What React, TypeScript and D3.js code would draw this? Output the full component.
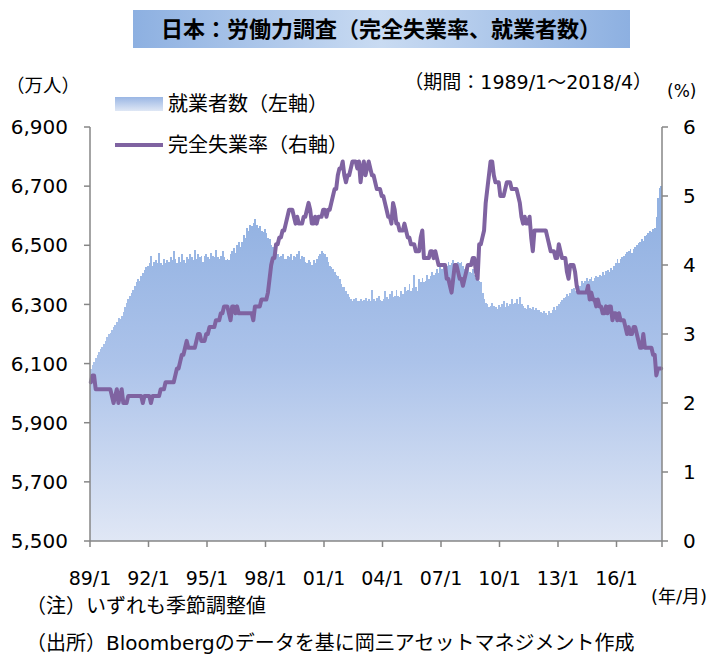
import * as d3 from "d3";

const startYear = 1989;

// 就業者数（万人, 季節調整値）1989/1〜2018/4
const employment = [
  6080, 6095, 6105, 6118, 6130, 6140, 6150, 6155, 6165, 6175, 6190, 6200,
  6205, 6215, 6225, 6230, 6240, 6255, 6250, 6262, 6275, 6290, 6305, 6320,
  6330, 6340, 6350, 6362, 6375, 6385, 6380, 6395, 6405, 6418, 6425, 6430,
  6440, 6465, 6430, 6445, 6450, 6440, 6475, 6440, 6435, 6455, 6440, 6450,
  6445, 6460, 6450, 6480, 6455, 6440, 6460, 6445, 6470, 6450, 6440, 6460,
  6455, 6470, 6460, 6450, 6485, 6455, 6470, 6460, 6465, 6445, 6465, 6470,
  6460, 6455, 6475, 6465, 6460, 6485, 6460, 6455, 6465, 6480, 6460, 6450,
  6455, 6450, 6470, 6480, 6490, 6475, 6500, 6510, 6495, 6510, 6535, 6525,
  6560, 6550, 6570, 6565, 6575, 6590, 6570, 6560, 6565, 6550, 6545, 6555,
  6540, 6525, 6520, 6500, 6495, 6480, 6475, 6470, 6460, 6465, 6470, 6455,
  6455, 6465, 6460, 6470, 6450, 6465, 6460, 6470, 6480, 6455, 6465, 6460,
  6445, 6440, 6450, 6445, 6435, 6450, 6440, 6455, 6465, 6470, 6480, 6475,
  6470, 6460, 6445, 6430, 6425, 6420, 6410, 6400, 6395, 6385, 6370, 6360,
  6360, 6345, 6335, 6325, 6318, 6310, 6318, 6322, 6312, 6310, 6318, 6312,
  6315, 6322, 6310, 6318, 6312, 6350, 6318, 6312, 6322, 6330, 6315, 6310,
  6320, 6345, 6325, 6320, 6335, 6345, 6325, 6330, 6350, 6330, 6325, 6345,
  6335, 6360, 6345, 6350, 6370, 6345, 6355, 6400, 6360, 6345, 6385, 6375,
  6390, 6375, 6380, 6400, 6385, 6395, 6410, 6400, 6405, 6420, 6405, 6425,
  6420, 6425, 6435, 6430, 6445, 6435, 6440, 6450, 6440, 6430, 6445, 6440,
  6445, 6430, 6420, 6415, 6425, 6410, 6405, 6420, 6400, 6390, 6385, 6380,
  6375, 6340, 6320, 6305, 6300, 6290, 6295, 6305, 6295, 6290, 6285, 6298,
  6290, 6300, 6310, 6290, 6305, 6295, 6300, 6318, 6300, 6305, 6320, 6300,
  6325, 6300, 6295, 6288, 6285, 6298, 6288, 6285, 6292, 6280, 6288, 6282,
  6280, 6275, 6270, 6278, 6270, 6265, 6278, 6270, 6282, 6290, 6282, 6295,
  6300, 6308, 6315, 6322, 6325, 6335, 6330, 6340, 6352, 6355, 6345, 6362,
  6365, 6362, 6380, 6372, 6380, 6388, 6378, 6385, 6392, 6380, 6388, 6395,
  6392, 6400, 6395, 6408, 6400, 6412, 6418, 6410, 6422, 6415, 6430, 6440,
  6452, 6440, 6455, 6462, 6465, 6472, 6478, 6482, 6488, 6475, 6488, 6495,
  6500, 6508, 6512, 6522, 6515, 6532, 6535, 6542, 6550, 6545, 6555, 6560,
  6595, 6660, 6695, 6700,
];

// 完全失業率（%, 季節調整値）1989/1〜2018/4
const unemployment = [
  2.3, 2.4, 2.4, 2.2, 2.2, 2.2, 2.2, 2.2, 2.2, 2.2, 2.2, 2.2,
  2.2, 2.1, 2.0, 2.1, 2.2, 2.0, 2.1, 2.2, 2.0, 2.0, 2.0, 2.1,
  2.1, 2.1, 2.1, 2.1, 2.1, 2.1, 2.1, 2.1, 2.0, 2.1, 2.1, 2.1,
  2.1, 2.0, 2.1, 2.1, 2.1, 2.1, 2.1, 2.2, 2.2, 2.2, 2.3, 2.3,
  2.3, 2.3, 2.3, 2.3, 2.4, 2.5, 2.5, 2.6, 2.7, 2.7, 2.8, 2.9,
  2.8, 2.8, 2.8, 2.8, 2.8, 2.9, 3.0, 3.0, 2.9, 2.9, 2.9, 3.0,
  3.0, 3.1, 3.1, 3.1, 3.1, 3.2, 3.2, 3.2, 3.3, 3.3, 3.4, 3.4,
  3.4, 3.3, 3.2, 3.4, 3.4, 3.3, 3.4, 3.3, 3.3, 3.3, 3.3, 3.3,
  3.3, 3.3, 3.3, 3.3, 3.2, 3.4, 3.4, 3.4, 3.4, 3.5, 3.5, 3.5,
  3.5, 3.6, 3.8, 4.0, 4.1, 4.1, 4.3, 4.3, 4.4, 4.4, 4.5, 4.5,
  4.6, 4.7, 4.8, 4.8, 4.8, 4.7, 4.6, 4.7, 4.6, 4.6, 4.6, 4.7,
  4.7, 4.8, 4.9, 4.8, 4.6, 4.6, 4.7, 4.6, 4.7, 4.7, 4.7, 4.8,
  4.8, 4.7, 4.8, 4.8, 4.9, 5.0, 5.1, 5.1, 5.3, 5.4, 5.4, 5.5,
  5.3, 5.2, 5.3, 5.3, 5.4, 5.5, 5.5, 5.5, 5.4, 5.5, 5.2, 5.4,
  5.5, 5.3, 5.4, 5.5, 5.4, 5.3, 5.3, 5.2, 5.1, 5.1, 5.1, 5.0,
  5.0, 4.9, 4.8, 4.7, 4.7, 4.6, 4.9, 4.8, 4.6, 4.6, 4.5, 4.5,
  4.5, 4.6, 4.5, 4.4, 4.4, 4.3, 4.3, 4.3, 4.2, 4.2, 4.2, 4.4,
  4.5, 4.1, 4.1, 4.1, 4.1, 4.2, 4.2, 4.1, 4.2, 4.1, 4.0, 4.0,
  4.0, 4.0, 4.0, 3.8, 3.8, 3.7, 3.6, 3.8, 4.0, 4.0, 3.9, 3.8,
  3.8, 3.7, 3.8, 3.9, 4.0, 4.0, 4.0, 4.1, 4.1, 3.9, 3.8, 4.3,
  4.3, 4.4, 4.5, 4.9, 5.1, 5.3, 5.5, 5.5, 5.3, 5.2, 5.2, 5.2,
  5.0, 5.0, 5.0, 5.1, 5.2, 5.2, 5.2, 5.1, 5.1, 5.1, 5.1, 5.0,
  4.9, 4.7, 4.6, 4.7, 4.6, 4.6, 4.7, 4.4, 4.2, 4.5, 4.5, 4.5,
  4.5, 4.5, 4.5, 4.5, 4.5, 4.4, 4.3, 4.2, 4.2, 4.2, 4.1, 4.1,
  4.3, 4.2, 4.1, 4.1, 4.1, 3.9, 3.8, 4.0, 4.0, 4.0, 3.9, 3.7,
  3.6, 3.6, 3.6, 3.6, 3.6, 3.6, 3.7, 3.5, 3.6, 3.5, 3.5, 3.4,
  3.5, 3.4, 3.4, 3.3, 3.3, 3.4, 3.3, 3.4, 3.4, 3.2, 3.3, 3.3,
  3.2, 3.3, 3.2, 3.2, 3.2, 3.1, 3.0, 3.1, 3.0, 3.0, 3.1, 3.1,
  3.0, 2.9, 2.8, 2.8, 3.0, 2.8, 2.8, 2.8, 2.8, 2.8, 2.7, 2.7,
  2.4, 2.5, 2.5, 2.5,
];

const xTickLabels = ["89/1", "92/1", "95/1", "98/1", "01/1", "04/1", "07/1", "10/1", "13/1", "16/1"];
const leftTicks = [5500, 5700, 5900, 6100, 6300, 6500, 6700, 6900];
const rightTicks = [0, 1, 2, 3, 4, 5, 6];

const W = 708;
const H = 655;
const M = { left: 90, right: 662, top: 127, bottom: 541 };
const AXIS = "#868686";
const PURPLE = "#7f63a1";
const JP = "'Noto Sans CJK JP', sans-serif";
const NUM = "'DejaVu Sans', 'Noto Sans CJK JP', sans-serif";

export default function App() {
  const n = employment.length;
  const x = d3.scaleLinear().domain([0, n]).range([M.left, M.right]);
  const yL = d3.scaleLinear().domain([5500, 6900]).range([M.bottom, M.top]);
  const yR = d3.scaleLinear().domain([0, 6]).range([M.bottom, M.top]);

  const line = d3
    .line<number>()
    .x((_, i) => x(i + 0.5))
    .y((d) => yR(d));

  const bars = employment.map((v, i) => (
    <rect
      key={i}
      x={x(i)}
      y={yL(v)}
      width={x(i + 1) - x(i) + 0.3}
      height={yL(5500) - yL(v)}
      fill="url(#barGrad)"
      shapeRendering="crispEdges"
    />
  ));

  // one tick every 3 years (36 months) from startYear
  const xTicks = xTickLabels.map((lab, k) => ({ lab, pos: x(k * 36) }));

  return (
    <svg
      width={W}
      height={H}
      style={{ position: "absolute", left: 0, top: 0, background: "#fff" }}
      data-start={startYear}
    >
      <defs>
        <linearGradient id="titleGrad" x1="0" x2="1" y1="0" y2="0">
          <stop offset="0" stopColor="#8db0e1" />
          <stop offset="0.5" stopColor="#c9dbf2" />
          <stop offset="1" stopColor="#8db0e1" />
        </linearGradient>
        <linearGradient
          id="barGrad"
          gradientUnits="userSpaceOnUse"
          x1="0"
          x2="0"
          y1={M.top + 90}
          y2={M.bottom}
        >
          <stop offset="0" stopColor="#93b2e2" />
          <stop offset="0.45" stopColor="#acc3ea" />
          <stop offset="1" stopColor="#e0e7f5" />
        </linearGradient>
        <linearGradient id="legGrad" x1="0" x2="0" y1="0" y2="1">
          <stop offset="0" stopColor="#9ab6e4" />
          <stop offset="1" stopColor="#dfe7f5" />
        </linearGradient>
      </defs>

      {/* title */}
      <rect x={133} y={10} width={497} height={38} fill="url(#titleGrad)" />
      <text
        x={381}
        y={37}
        textAnchor="middle"
        fontFamily={JP}
        fontWeight="bold"
        fontSize={22}
        fill="#000"
      >
        日本：労働力調査（完全失業率、就業者数）
      </text>

      <text x={6} y={92} fontFamily={JP} fontSize={18.5}>（万人）</text>
      <text x={652} y={89} textAnchor="end" fontFamily={NUM} fontSize={19}>
        （期間：1989/1～2018/4）
      </text>
      <text x={667} y={97} fontFamily={NUM} fontSize={17}>(%)</text>

      {/* bars */}
      <g>{bars}</g>

      {/* unemployment line */}
      <path
        d={line(unemployment) ?? ""}
        fill="none"
        stroke={PURPLE}
        strokeWidth={4}
        strokeLinejoin="round"
        strokeLinecap="round"
      />

      {/* axes */}
      <g stroke={AXIS} strokeWidth={1.5} fill="none">
        <line x1={M.left} x2={M.left} y1={M.top} y2={M.bottom} />
        <line x1={M.right} x2={M.right} y1={M.top} y2={M.bottom} />
        <line x1={M.left} x2={M.right} y1={M.bottom} y2={M.bottom} />
        {leftTicks.map((t) => (
          <line key={t} x1={M.left - 6} x2={M.left} y1={yL(t)} y2={yL(t)} />
        ))}
        {rightTicks.map((t) => (
          <line key={t} x1={M.right} x2={M.right + 6} y1={yR(t)} y2={yR(t)} />
        ))}
        {xTicks.map((t) => (
          <line key={t.lab} x1={t.pos} x2={t.pos} y1={M.bottom} y2={M.bottom + 6} />
        ))}
        <line x1={M.right} x2={M.right} y1={M.bottom} y2={M.bottom + 6} />
      </g>

      <g fontFamily={NUM} fontSize={20} fill="#000">
        {leftTicks.map((t) => (
          <text key={t} x={68} y={yL(t)} dy="0.36em" textAnchor="end">
            {d3.format(",")(t)}
          </text>
        ))}
        {rightTicks.map((t) => (
          <text key={t} x={683} y={yR(t)} dy="0.36em">
            {t}
          </text>
        ))}
      </g>
      <g fontFamily={NUM} fontSize={19} fill="#000">
        {xTicks.map((t) => (
          <text key={t.lab} x={t.pos} y={585} textAnchor="middle">
            {t.lab}
          </text>
        ))}
      </g>
      <text x={707} y={603} textAnchor="end" fontFamily={NUM} fontSize={18}>(年/月)</text>

      {/* legend */}
      <rect x={115} y={97} width={48} height={14} fill="url(#legGrad)" />
      <text x={168} y={111} fontFamily={JP} fontSize={20}>就業者数（左軸）</text>
      <line x1={115} x2={163} y1={145} y2={145} stroke={PURPLE} strokeWidth={4} />
      <text x={168} y={152} fontFamily={JP} fontSize={20}>完全失業率（右軸）</text>

      {/* notes */}
      <text x={26} y={613} fontFamily={NUM} fontSize={20}>（注）いずれも季節調整値</text>
      <text x={26} y={650} fontFamily={NUM} fontSize={20}>
        （出所）Bloombergのデータを基に岡三アセットマネジメント作成
      </text>
    </svg>
  );
}
